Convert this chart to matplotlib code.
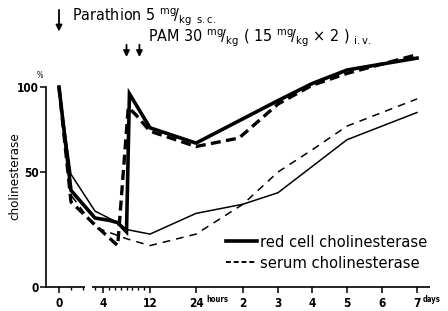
import numpy as np
import matplotlib
matplotlib.use("Agg")
import matplotlib.pyplot as plt
from matplotlib.lines import Line2D

# time in hours, values in % of the pre-poisoning level
red_pam_t = [0, 1, 3, 5, 6.5, 8, 8.5, 12, 24, 72, 96, 120, 168]
red_pam = [100, 42, 30, 29, 28, 24, 96, 76, 67, 92, 102, 110, 117]
serum_pam_t = [0, 1, 3, 6.5, 8.3, 9.5, 12, 24, 46, 72, 96, 120, 168]
serum_pam = [100, 37, 27, 18, 88, 84, 74, 65, 70, 90, 101, 108, 119]
red_ctl_t = [0, 1, 3, 6.5, 8, 12, 24, 48, 72, 120, 168]
red_ctl = [100, 49, 33, 28, 25, 23, 32, 36, 41, 69, 85]
serum_ctl_t = [0, 1, 3, 8, 12, 24, 48, 72, 96, 120, 168]
serum_ctl = [100, 40, 26, 21, 18, 23, 36, 50, 63, 77, 93]

major_t = [0, 4, 12, 24, 48, 72, 96, 120, 144, 168]
major_lab = ["0", "4", "12", "24", "2", "3", "4", "5", "6", "7"]
minor_t = [1, 2, 3, 5, 6, 7, 8, 9, 10, 11]

# the printed axes are hand drawn: piecewise spacing on both axes
H_KNOT = [-50, 0, 1, 2, 3, 4, 12, 24, 48, 72, 96, 120, 144, 168, 400]
X_KNOT = [-600, 0, 12, 24, 36, 44, 91, 137, 184, 219, 253, 288, 323, 358, 696]
V_KNOT = [-100, 0, 50, 100, 300]
Y_KNOT = [-230, 0, 115, 200, 540]


def xfwd(h):
    return np.interp(h, H_KNOT, X_KNOT)


def xinv(p):
    return np.interp(p, X_KNOT, H_KNOT)


def yfwd(v):
    return np.interp(v, V_KNOT, Y_KNOT)


def yinv(p):
    return np.interp(p, Y_KNOT, V_KNOT)


plt.rcParams["font.family"] = ["DejaVu Sans"]
plt.rcParams["font.stretch"] = "condensed"

fig = plt.figure(figsize=(4.48, 3.11), dpi=100)
ax = fig.add_axes([46 / 448, 24 / 311, 384 / 448, 251 / 311])
ax.set_xscale("function", functions=(xfwd, xinv))
ax.set_yscale("function", functions=(yfwd, yinv))
ax.set_xlim(-1.083, 176.9)
ax.set_ylim(0, 130)

ax.plot(red_pam_t, red_pam, color="k", lw=2.6, solid_joinstyle="miter")
ax.plot(serum_pam_t, serum_pam, color="k", lw=2.4, ls=(0, (3, 1.6)))
ax.plot(red_ctl_t, red_ctl, color="k", lw=1.1)
ax.plot(serum_ctl_t, serum_ctl, color="k", lw=1.1, ls=(0, (5, 4)))

for s in ["top", "right", "bottom"]:
    ax.spines[s].set_visible(False)
ax.spines["left"].set_bounds(0, 100)
ax.spines["left"].set_linewidth(1.2)
# x axis line with the small break between 2 and 3 hours
ax.hlines(0, -1.083, 2.2, color="k", lw=1.2, clip_on=False)
ax.hlines(0, 2.75, 176.9, color="k", lw=1.2, clip_on=False)

ax.set_xticks(major_t)
ax.set_xticklabels(major_lab)
ax.set_xticks(minor_t, minor=True)
ax.set_yticks([0, 50, 100])
ax.set_yticklabels(["0", "50", "100"])
ax.tick_params(axis="both", which="major", length=4, width=1.1, pad=3,
               labelsize=8.5)
ax.tick_params(axis="y", which="major", pad=1)
ax.tick_params(axis="x", which="minor", length=2.5, width=1)
for lab in ax.get_xticklabels() + ax.get_yticklabels():
    lab.set_fontweight("bold")

fig.text(206 / 448, 1 - 300 / 311, "hours", fontsize=5.5, fontweight="bold",
         va="center", ha="left")
fig.text(423 / 448, 1 - 300 / 311, "days", fontsize=5.5, fontweight="bold",
         va="center", ha="left")
fig.text(40 / 448, 1 - 76 / 311, "%", fontsize=5.5, ha="center", va="center")
fig.text(15 / 448, 1 - 176 / 311, "cholinesterase", rotation=90,
         fontsize=9.5, ha="center", va="center")

fig.text(72 / 448, 1 - 17 / 311,
         r"Parathion 5 $^{\rm mg}\!/_{\rm kg}$ $_{\rm s.c.}$",
         fontsize=11.5, va="center", ha="left")
fig.text(148 / 448, 1 - 38 / 311,
         r"PAM 30 $^{\rm mg}\!/_{\rm kg}$ ( 15 $^{\rm mg}\!/_{\rm kg}$"
         r" $\times$ 2 ) $_{\rm i.v.}$",
         fontsize=11.5, va="center", ha="left")

arrow = dict(arrowstyle="-|>", color="k", lw=1.3, mutation_scale=9)
ax.annotate("", xy=(0, 131), xytext=(0, 147), arrowprops=arrow,
            annotation_clip=False)
for t in [8, 10.2]:
    ax.annotate("", xy=(t, 116), xytext=(t, 126.5), arrowprops=arrow,
                annotation_clip=False)

handles = [Line2D([], [], color="k", lw=2.6),
           Line2D([], [], color="k", lw=1.4, ls=(0, (2.5, 1.5)))]
ax.legend(handles, ["red cell cholinesterase", "serum cholinesterase"],
          loc="upper left", bbox_to_anchor=(226 / 448, 1 - 235 / 311),
          bbox_transform=fig.transFigure, frameon=False, fontsize=11.8,
          handlelength=1.9, handletextpad=0.2, labelspacing=0.35,
          borderpad=0, borderaxespad=0)

fig.savefig("out.png", dpi=100)
